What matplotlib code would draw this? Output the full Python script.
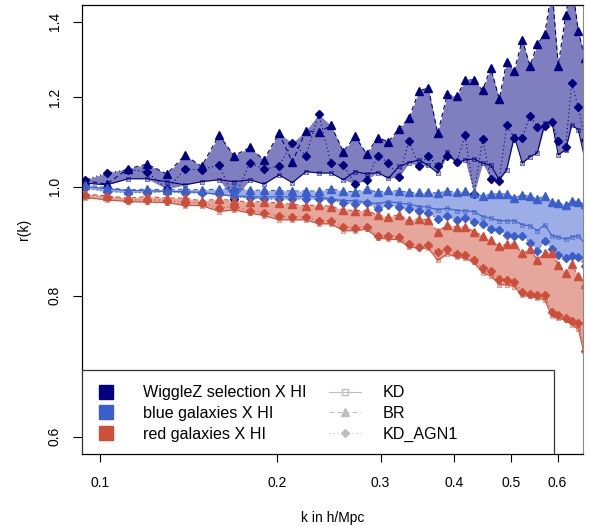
import matplotlib
matplotlib.use('Agg')
import matplotlib.pyplot as plt
from matplotlib.lines import Line2D
from matplotlib.patches import Rectangle
import numpy as np

plt.rcParams['font.family'] = ['Liberation Sans', 'DejaVu Sans']

# k bins (h/Mpc)
k = [0.0943, 0.1027, 0.1117, 0.1203, 0.1299, 0.1395, 0.1489, 0.1594, 0.1690, 0.1799,
     0.1900, 0.2016, 0.2124, 0.2240, 0.2355, 0.2471, 0.2593, 0.2716, 0.2842, 0.2967,
     0.3093, 0.3225, 0.3354, 0.3488, 0.3617, 0.3753, 0.3896, 0.4043, 0.4177, 0.4326,
     0.4475, 0.4618, 0.4776, 0.4916, 0.5065, 0.5226, 0.5387, 0.5543, 0.5706, 0.5871,
     0.6016, 0.6194, 0.6342, 0.6507, 0.668]

# WiggleZ selection X HI
wig_kd = [1.007, 1.0035, 1.016, 1.016, 1.010, 1.0035, 1.010, 1.014, 1.010, 1.014,
          1.005, 1.024, 1.008, 1.031, 1.028, 1.028, 1.014, 1.031, 1.026, 1.029,
          1.017, 1.042, 1.050, 1.056, 1.044, 1.028, 1.074, 1.049, 1.056, 1.058,
          1.049, 1.045, 1.014, 1.035, 1.108, 1.049, 1.063, 1.071, 1.138, 1.140,
          1.067, 1.078, 1.134, 1.123, 1.057]
wig_br = [1.012, 1.005, 1.037, 1.047, 1.026, 1.066, 1.042, 1.111, 1.065, 1.083,
          1.056, 1.115, 1.051, 1.121, 1.117, 1.133, 1.074, 1.108, 1.069, 1.105,
          1.096, 1.125, 1.150, 1.216, 1.223, 1.115, 1.207, 1.202, 1.242, 1.244,
          1.217, 1.274, 1.196, 1.291, 1.267, 1.349, 1.280, 1.338, 1.365, 1.50,
          1.280, 1.420, 1.52, 1.374, 1.30]
wig_agn = [1.014, 1.028, 1.035, 1.030, 0.995, 1.036, 1.035, 1.045, 0.975, 1.050,
           1.036, 1.043, 1.093, 1.065, 1.159, 1.049, 1.045, 1.0055, 1.014, 1.065,
           1.050, 1.019, 1.098, 1.042, 1.065, 1.042, 1.065, 1.052, 1.110, 0.985,
           1.102, 1.015, 1.012, 1.134, 1.105, 1.104, 1.156, 1.129, 1.132, 1.140,
           1.098, 1.085, 1.235, 1.176, 1.10]

# blue galaxies X HI
blue_kd = [1.000, 0.9953, 0.9918, 0.9918, 0.9898, 0.9898, 0.9878, 0.9832, 0.9812, 0.9798,
           0.9786, 0.9798, 0.9786, 0.9802, 0.9792, 0.9746, 0.9718, 0.9712, 0.9686, 0.9653,
           0.9698, 0.9666, 0.9647, 0.9600, 0.9588, 0.9535, 0.9568, 0.9521, 0.9515, 0.9502,
           0.9405, 0.9375, 0.9324, 0.9324, 0.9324, 0.9248, 0.9229, 0.9136, 0.9248, 0.9043,
           0.9019, 0.8982, 0.9019, 0.9043, 0.89]
blue_br = [1.0035, 0.998, 0.993, 0.995, 0.993, 0.9947, 0.993, 0.995, 0.9967, 0.993,
           0.992, 0.992, 0.991, 0.991, 0.991, 0.995, 0.991, 0.989, 0.995, 0.988,
           0.992, 0.991, 0.988, 0.988, 0.988, 0.987, 0.990, 0.989, 0.990, 0.987,
           0.980, 0.985, 0.985, 0.985, 0.977, 0.983, 0.980, 0.975, 0.981, 0.969,
           0.967, 0.962, 0.971, 0.969, 0.965]
blue_agn = [0.9967, 0.9898, 0.9878, 0.9878, 0.9898, 0.9866, 0.9878, 0.9852, 0.9798, 0.9766,
            0.9752, 0.9746, 0.9752, 0.9746, 0.9752, 0.9732, 0.9678, 0.9652, 0.9678, 0.9549,
            0.9633, 0.9588, 0.9549, 0.9516, 0.9471, 0.9356, 0.9406, 0.9343, 0.9374, 0.9310,
            0.9266, 0.9172, 0.9154, 0.9061, 0.9043, 0.9043, 0.8919, 0.8774, 0.8954, 0.8800,
            0.8697, 0.8639, 0.8680, 0.8656, 0.85]

# red galaxies X HI
red_kd = [0.9778, 0.9732, 0.9698, 0.9686, 0.9678, 0.9619, 0.9619, 0.9502, 0.9535, 0.9471,
          0.9425, 0.9342, 0.9342, 0.9342, 0.9266, 0.9266, 0.9136, 0.9136, 0.9167, 0.9000,
          0.8982, 0.8970, 0.8835, 0.8817, 0.8817, 0.8598, 0.8715, 0.8656, 0.8639, 0.8563,
          0.8380, 0.8333, 0.8181, 0.8181, 0.8152, 0.8004, 0.7988, 0.7962, 0.7934, 0.7669,
          0.7643, 0.7606, 0.7540, 0.7474, 0.706]
red_br = [0.9846, 0.9812, 0.9766, 0.9798, 0.9766, 0.9766, 0.9712, 0.9746, 0.9718, 0.9686,
          0.9698, 0.9666, 0.9647, 0.9613, 0.9633, 0.9600, 0.9535, 0.9521, 0.9521, 0.9438,
          0.9394, 0.9438, 0.9342, 0.9361, 0.9342, 0.9122, 0.9248, 0.9205, 0.9205, 0.9122,
          0.9043, 0.8956, 0.8858, 0.8889, 0.8895, 0.8727, 0.8800, 0.8610, 0.8727, 0.8738,
          0.8522, 0.8389, 0.8535, 0.8321, 0.82]
red_agn = [0.9832, 0.9798, 0.9732, 0.9732, 0.9718, 0.9678, 0.9678, 0.9568, 0.9600, 0.9521,
           0.9483, 0.9418, 0.9405, 0.9390, 0.9324, 0.9324, 0.9215, 0.9196, 0.9215, 0.9043,
           0.9043, 0.9019, 0.8889, 0.8845, 0.8876, 0.8756, 0.8800, 0.8715, 0.8697, 0.8598,
           0.8464, 0.8423, 0.8277, 0.8264, 0.8220, 0.8069, 0.8032, 0.8004, 0.8004, 0.7732,
           0.7696, 0.7643, 0.7590, 0.7566, 0.715]

groups = [('WiggleZ selection X HI', '#000080', wig_kd, wig_br, wig_agn),
          ('blue galaxies X HI', '#3A5FCD', blue_kd, blue_br, blue_agn),
          ('red galaxies X HI', '#CD4F39', red_kd, red_br, red_agn)]
models = ['KD', 'BR', 'KD_AGN1']

fig = plt.figure(figsize=(5.89, 5.26), dpi=100)
ax = fig.add_axes([0.1392, 0.1369, 0.8498, 0.8536])

for name, c, kd, br, agn in groups:
    allm = np.array([kd, br, agn])
    ax.fill_between(k, allm.min(axis=0), allm.max(axis=0), color=c, alpha=0.5, lw=0)
for name, c, kd, br, agn in groups:
    ax.plot(k, kd, '-', color=c, lw=0.8)
    ax.plot(k, kd, 's', ms=3.5, mfc='none', mec=c, mew=0.7, alpha=0.5)
    ax.plot(k, kd, 'x', ms=2.5, mec=c, mew=0.6, alpha=0.5)
    ax.plot(k, br, color=c, lw=0.8, ls=(0, (4, 3)), marker='^', ms=6)
    ax.plot(k, agn, color=c, lw=0.8, ls=(0, (1, 2.5)), marker='D', ms=3.6)

ax.set_xscale('log')
ax.set_yscale('log')
ax.set_xlim(0.0932, 0.6616)
ax.set_ylim(0.579, 1.449)
xt = [0.1, 0.2, 0.3, 0.4, 0.5, 0.6]
yt = [0.6, 0.8, 1.0, 1.2, 1.4]
ax.set_xticks(xt)
ax.set_xticklabels(['%.1f' % v for v in xt])
ax.set_yticks(yt)
ax.set_yticklabels(['%.1f' % v for v in yt], rotation=90, va='center')
ax.minorticks_off()
ax.tick_params(axis='x', length=6, width=0.8, pad=10, labelsize=10)
ax.tick_params(axis='y', length=6.5, width=0.8, pad=8, labelsize=10)
for s in ['left', 'bottom', 'top']:
    ax.spines[s].set_linewidth(0.9)
ax.spines['right'].set_color('#888888')
ax.spines['right'].set_linewidth(0.8)
ax.set_xlabel('k in h/Mpc', fontsize=10, labelpad=15)
ax.set_ylabel('r(k)', fontsize=10, labelpad=12)

# legend box
ax.add_patch(Rectangle((0, 0), 0.943, 0.187, transform=ax.transAxes,
                       facecolor='white', edgecolor='#333333', lw=0.9, zorder=5))
handles = []
labels = []
for name, c, kd, br, agn in groups:
    handles.append(Line2D([], [], ls='none', marker='s', ms=9.5, color=c))
    labels.append(name)
grey = '#BEBEBE'
handles.append(Line2D([], [], color=grey, lw=0.8, marker='s', ms=4, mfc='none'))
handles.append(Line2D([], [], color=grey, lw=0.8, ls=(0, (4, 3)), marker='^', ms=6))
handles.append(Line2D([], [], color=grey, lw=0.8, ls=(0, (1, 2.5)), marker='D', ms=3.6))
labels += models
leg = ax.legend(handles, labels, ncol=2, loc='lower left', bbox_to_anchor=(0.0, 0.009),
                frameon=False, fontsize=11.6, handlelength=2.0, handletextpad=1.3,
                columnspacing=1.4, labelspacing=0.35, borderaxespad=0.0, borderpad=0.5)
leg.set_zorder(6)

fig.savefig('out.png', dpi=100)
